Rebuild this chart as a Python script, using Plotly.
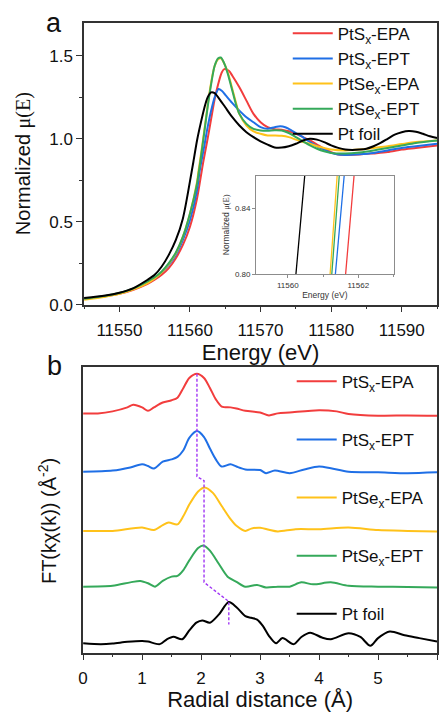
import plotly.graph_objects as go

# ---------------- Pt L3-edge XANES (normalized absorption) ----------------
e_epa_s = [11545, 11548, 11550, 11552, 11554, 11555, 11556, 11557, 11558, 11559, 11560, 11561,
           11561.64, 11561.88, 11562.5, 11563, 11563.5, 11564, 11564.5, 11564.85, 11565.5, 11566,
           11567, 11568, 11569, 11570, 11571, 11572, 11573, 11574, 11575, 11576, 11577, 11578,
           11579, 11580, 11581, 11582, 11584, 11586, 11588, 11590, 11592, 11595]
mu_epa_s = [0.035, 0.05, 0.065, 0.09, 0.125, 0.15, 0.18, 0.22, 0.28, 0.36, 0.47, 0.64,
            0.80, 0.86, 1.00, 1.12, 1.24, 1.33, 1.40, 1.42, 1.41, 1.38,
            1.31, 1.23, 1.15, 1.10, 1.07, 1.058, 1.055, 1.045, 1.03, 1.01, 0.99, 0.965,
            0.94, 0.92, 0.905, 0.903, 0.905, 0.912, 0.92, 0.935, 0.945, 0.96]

e_ept_s = [11545, 11548, 11550, 11552, 11554, 11555, 11556, 11557, 11558, 11559, 11560, 11561,
           11561.35, 11561.60, 11562, 11562.5, 11563, 11563.5, 11564.05, 11564.5, 11565, 11566,
           11567, 11568, 11569, 11570, 11571, 11572, 11572.8, 11573.5, 11574, 11575, 11576, 11577,
           11578, 11579, 11580, 11581, 11582, 11584, 11586, 11588, 11590, 11592, 11595]
mu_ept_s = [0.035, 0.052, 0.068, 0.095, 0.135, 0.16, 0.195, 0.24, 0.30, 0.39, 0.51, 0.69,
            0.80, 0.86, 0.95, 1.07, 1.17, 1.25, 1.30, 1.29, 1.265, 1.215,
            1.17, 1.13, 1.10, 1.07, 1.06, 1.07, 1.075, 1.07, 1.06, 1.035, 1.01, 0.98,
            0.955, 0.935, 0.915, 0.905, 0.903, 0.907, 0.915, 0.93, 0.945, 0.955, 0.97]

e_epa_se = [11545, 11548, 11550, 11552, 11554, 11555, 11556, 11557, 11558, 11559, 11560, 11561,
            11561.19, 11561.40, 11562, 11562.5, 11563, 11563.5, 11564, 11564.4, 11565, 11565.5,
            11566, 11566.5, 11567, 11568, 11569, 11570, 11571, 11572, 11573, 11574, 11575, 11576,
            11577, 11578, 11579, 11580, 11582, 11584, 11586, 11588, 11590, 11592, 11595]
mu_epa_se = [0.03, 0.048, 0.065, 0.092, 0.13, 0.158, 0.195, 0.245, 0.31, 0.41, 0.55, 0.74,
             0.80, 0.86, 1.04, 1.20, 1.34, 1.44, 1.48, 1.485, 1.44, 1.38,
             1.30, 1.22, 1.15, 1.08, 1.045, 1.03, 1.02, 1.02, 1.018, 1.01, 0.995, 0.98,
             0.97, 0.955, 0.945, 0.935, 0.93, 0.935, 0.945, 0.955, 0.968, 0.98, 0.99]

e_ept_se = [11545, 11548, 11550, 11552, 11554, 11555, 11556, 11557, 11558, 11559, 11560, 11561,
            11561.25, 11561.46, 11562, 11562.5, 11563, 11563.5, 11564, 11564.37, 11565, 11565.5,
            11566, 11566.5, 11567, 11568, 11569, 11570, 11571, 11572, 11573, 11574, 11575, 11576,
            11577, 11578, 11579, 11580, 11582, 11584, 11586, 11588, 11590, 11592, 11595]
mu_ept_se = [0.035, 0.053, 0.07, 0.098, 0.14, 0.165, 0.20, 0.25, 0.315, 0.41, 0.55, 0.73,
             0.80, 0.86, 1.03, 1.19, 1.33, 1.44, 1.485, 1.49, 1.44, 1.37,
             1.29, 1.21, 1.15, 1.09, 1.06, 1.05, 1.048, 1.052, 1.05, 1.035, 1.01, 0.985,
             0.96, 0.94, 0.925, 0.915, 0.912, 0.918, 0.93, 0.945, 0.96, 0.975, 0.99]

e_foil = [11545, 11548, 11550, 11552, 11554, 11555, 11556, 11557, 11558, 11559,
          11560.23, 11560.48, 11561, 11561.5, 11562, 11562.5, 11563, 11563.5, 11564, 11565,
          11566, 11567, 11568, 11569, 11570, 11571, 11572, 11573, 11574, 11575, 11576, 11577,
          11578, 11579, 11580, 11581, 11582, 11583, 11584, 11585, 11586, 11587, 11588, 11589,
          11590, 11591, 11592, 11593, 11594, 11595]
mu_foil = [0.04, 0.055, 0.072, 0.10, 0.15, 0.18, 0.23, 0.30, 0.39, 0.52,
           0.80, 0.86, 0.99, 1.09, 1.18, 1.25, 1.28, 1.275, 1.25, 1.19,
           1.13, 1.08, 1.04, 1.01, 0.985, 0.965, 0.948, 0.947, 0.955, 0.97, 0.99, 1.00,
           0.995, 0.98, 0.96, 0.945, 0.935, 0.933, 0.935, 0.94, 0.955, 0.975, 1.00, 1.025,
           1.04, 1.047, 1.043, 1.03, 1.015, 1.005]

# ---------------- Fourier-transformed EXAFS ----------------
r_epa_s = [0, 0.25, 0.5, 0.75, 0.85, 1.0, 1.1, 1.2, 1.35, 1.5, 1.6, 1.7, 1.8, 1.93, 2.05, 2.15,
           2.25, 2.35, 2.5, 2.6, 2.75, 3.0, 3.15, 3.3, 3.5, 4.0, 4.3, 4.5, 5.0, 5.5, 6.0]
ft_epa_s = [0.37, 0.37, 0.44, 0.58, 0.67, 0.58, 0.46, 0.58, 0.75, 0.83, 0.92, 1.26, 1.61, 1.76,
            1.61, 1.26, 0.86, 0.61, 0.58, 0.54, 0.46, 0.40, 0.30, 0.37, 0.40, 0.48, 0.44, 0.35,
            0.29, 0.30, 0.29]

r_ept_s = [0, 0.5, 0.8, 1.0, 1.1, 1.2, 1.35, 1.5, 1.6, 1.7, 1.8, 1.93, 2.05, 2.15, 2.25, 2.35,
           2.5, 2.6, 2.75, 3.0, 3.1, 3.25, 3.5, 3.75, 4.0, 4.2, 4.5, 5.0, 5.5, 6.0]
ft_ept_s = [0.33, 0.37, 0.48, 0.59, 0.53, 0.44, 0.68, 0.76, 0.85, 1.08, 1.51, 1.75, 1.54, 1.14,
            0.76, 0.51, 0.59, 0.51, 0.41, 0.39, 0.28, 0.37, 0.28, 0.41, 0.51, 0.45, 0.33, 0.31,
            0.28, 0.31]

r_epa_se = [0, 0.5, 1.0, 1.2, 1.35, 1.45, 1.6, 1.7, 1.8, 1.95, 2.06, 2.2, 2.35, 2.5, 2.6, 2.75,
            2.85, 3.0, 3.15, 3.3, 3.6, 4.0, 4.5, 5.0, 5.5, 6.0]
ft_epa_se = [0.26, 0.26, 0.38, 0.29, 0.46, 0.55, 0.49, 0.78, 1.18, 1.64, 1.78, 1.59, 1.13, 0.67,
             0.44, 0.26, 0.34, 0.37, 0.30, 0.24, 0.32, 0.32, 0.38, 0.29, 0.26, 0.24]

r_ept_se = [0, 0.5, 0.8, 0.97, 1.1, 1.22, 1.35, 1.5, 1.6, 1.7, 1.8, 1.95, 2.04, 2.15, 2.3, 2.45,
            2.6, 2.75, 2.95, 3.1, 3.3, 3.5, 3.7, 3.9, 4.2, 4.5, 5.0, 5.5, 6.0]
ft_ept_se = [0.31, 0.34, 0.46, 0.51, 0.43, 0.31, 0.51, 0.66, 0.69, 0.89, 1.23, 1.66, 1.75, 1.57,
             1.11, 0.66, 0.48, 0.31, 0.37, 0.28, 0.31, 0.31, 0.46, 0.39, 0.46, 0.34, 0.31, 0.30,
             0.28]

r_foil = [0, 0.3, 0.5, 0.75, 1.0, 1.1, 1.3, 1.42, 1.53, 1.68, 1.8, 1.92, 2.02, 2.15, 2.3, 2.47,
          2.6, 2.75, 2.85, 2.95, 3.05, 3.15, 3.27, 3.38, 3.57, 3.7, 3.85, 4.05, 4.2, 4.5, 4.7,
          4.87, 5.0, 5.2, 5.45, 5.7, 6.0]
ft_foil = [0.33, 0.30, 0.32, 0.38, 0.41, 0.39, 0.30, 0.47, 0.56, 0.47, 0.78, 1.05, 1.13, 1.05,
           1.33, 1.77, 1.59, 1.28, 1.22, 1.16, 0.93, 0.59, 0.33, 0.51, 0.30, 0.55, 0.70, 0.53,
           0.47, 0.68, 0.55, 0.24, 0.51, 0.74, 0.61, 0.51, 0.39]

ft_offsets = [8.0, 6.0, 4.0, 2.0, 0.0]

# guide through the first-shell peak positions
guide_r = [1.93, 1.93, 2.05, 2.05, 2.47, 2.47]
guide_y = [9.76, 6.16, 6.02, 2.46, 1.79, 0.99]

labels = ['PtS<sub>x</sub>-EPA', 'PtS<sub>x</sub>-EPT', 'PtSe<sub>x</sub>-EPA',
          'PtSe<sub>x</sub>-EPT', 'Pt foil']
colors = ['#f23d3d', '#1f6fe6', '#ffc21a', '#35a95a', '#000000']

xanes = [(e_epa_s, mu_epa_s), (e_ept_s, mu_ept_s), (e_epa_se, mu_epa_se),
         (e_ept_se, mu_ept_se), (e_foil, mu_foil)]
exafs = [(r_epa_s, ft_epa_s), (r_ept_s, ft_ept_s), (r_epa_se, ft_epa_se),
         (r_ept_se, ft_ept_se), (r_foil, ft_foil)]

FONT = 'Liberation Sans, Arial, sans-serif'
W, H = 440, 712
MU_TITLE = "Normalized <span style='font-family:Liberation Serif'>μ(E)</span>"

fig = go.Figure()

# main XANES panel
for (e, mu), name, c in zip(xanes, labels, colors):
    fig.add_trace(go.Scatter(x=e, y=mu, mode='lines', name=name,
                             line=dict(color=c, width=2, shape='spline', smoothing=0.8),
                             xaxis='x', yaxis='y', legend='legend'))

# inset: zoom on the edge position
for (e, mu), c in zip(xanes, colors):
    fig.add_trace(go.Scatter(x=e, y=mu, mode='lines', showlegend=False,
                             line=dict(color=c, width=1.3),
                             xaxis='x2', yaxis='y2', cliponaxis=True))

# FT-EXAFS panel, stacked
for i, ((r, ft), name, c, off) in enumerate(zip(exafs, labels, colors, ft_offsets)):
    fig.add_trace(go.Scatter(x=r, y=[v + off for v in ft], mode='lines', name=name,
                             legendgroup=f'g{i}',
                             line=dict(color=c, width=2, shape='spline', smoothing=0.8),
                             xaxis='x3', yaxis='y3', legend='legend2'))

fig.add_trace(go.Scatter(x=guide_r, y=guide_y, mode='lines', showlegend=False,
                         line=dict(color='#a035f5', width=1.4, dash='3px,2px'),
                         xaxis='x3', yaxis='y3'))

axis_common = dict(showline=True, linecolor='#333333', linewidth=1.5, mirror=True,
                   showgrid=False, zeroline=False, ticks='outside', tickcolor='#333333',
                   tickwidth=1.3, ticklen=6,
                   tickfont=dict(family=FONT, size=17, color='#111111'))

fig.update_layout(
    width=W, height=H,
    margin=dict(l=0, r=0, t=0, b=0),
    paper_bgcolor='white', plot_bgcolor='white',
    font=dict(family=FONT, color='#111111'),
    xaxis=dict(**axis_common, domain=[80 / W, 437 / W], range=[11545, 11595],
               tickvals=[11550, 11560, 11570, 11580, 11590], tickformat='d',
               ticklabelstandoff=3,
               minor=dict(dtick=5, tick0=11545, ticks='outside', ticklen=3,
                          tickcolor='#333333'),
               title=dict(text='Energy (eV)', font=dict(family=FONT, size=22),
                          standoff=0),
               anchor='y'),
    yaxis=dict(**axis_common, domain=[1 - 309 / H, 1 - 23 / H], range=[0, 1.7],
               tickvals=[0, 0.5, 1.0, 1.5], tickformat='.1f',
               minor=dict(dtick=0.25, tick0=0, ticks='outside', ticklen=3,
                          tickcolor='#333333'),
               title=dict(text=MU_TITLE, font=dict(family=FONT, size=20), standoff=13),
               anchor='x'),
    xaxis2=dict(showline=True, linecolor='#8c8c8c', linewidth=1, mirror=True,
                showgrid=False, zeroline=False, ticks='outside', ticklen=3,
                tickcolor='#8c8c8c', domain=[254 / W, 393 / W], range=[11559.1, 11563],
                tickvals=[11560, 11562], tickformat='d',
                minor=dict(dtick=1, tick0=11559, ticks='outside', ticklen=2,
                           tickcolor='#8c8c8c'),
                tickfont=dict(family=FONT, size=8, color='#333333'),
                title=dict(text='Energy (eV)', font=dict(family=FONT, size=8.5,
                                                         color='#333333'), standoff=1),
                anchor='y2'),
    yaxis2=dict(showline=True, linecolor='#8c8c8c', linewidth=1, mirror=True,
                showgrid=False, zeroline=False, ticks='outside', ticklen=3,
                tickcolor='#8c8c8c', domain=[1 - 278 / H, 1 - 178 / H], range=[0.80, 0.86],
                tickvals=[0.80, 0.84], tickformat='.2f',
                tickfont=dict(family=FONT, size=8, color='#333333'),
                title=dict(text=MU_TITLE, font=dict(family=FONT, size=8.5, color='#333333'),
                           standoff=3),
                anchor='x2'),
    xaxis3=dict(**axis_common, domain=[79 / W, 437 / W], range=[0, 6],
                tickvals=[0, 1, 2, 3, 4, 5, 6], ticklabelstandoff=3,
                minor=dict(dtick=0.5, tick0=0, ticks='outside', ticklen=3,
                           tickcolor='#333333'),
                title=dict(text='Radial distance (Å)', font=dict(family=FONT, size=22),
                           standoff=3),
                anchor='y3'),
    yaxis3=dict(showline=True, linecolor='#333333', linewidth=1.5, mirror=True,
                showgrid=False, zeroline=False, ticks='', showticklabels=False,
                domain=[1 - 662 / H, 1 - 372 / H], range=[0, 10],
                anchor='x3'),
    legend=dict(x=286 / W, xanchor='left', y=1 - 16 / H, yanchor='top',
                bgcolor='rgba(0,0,0,0)', font=dict(family=FONT, size=17),
                itemwidth=40, tracegroupgap=0),
    legend2=dict(x=290 / W, xanchor='left', y=1 - 369 / H, yanchor='top',
                 bgcolor='rgba(0,0,0,0)', font=dict(family=FONT, size=17),
                 itemwidth=40, tracegroupgap=33),
    annotations=[
        dict(text='a', x=50 / W, y=1 - 23 / H, xref='paper', yref='paper',
             xanchor='center', yanchor='middle',
             showarrow=False, font=dict(family=FONT, size=27, color='#111111')),
        dict(text='b', x=50 / W, y=1 - 371 / H, xref='paper', yref='paper',
             xanchor='center', yanchor='middle',
             showarrow=False, font=dict(family=FONT, size=27, color='#111111')),
        # y-axis title of the FT panel
        dict(text='FT(kχ(k)) (Å<sup>-2</sup>)', x=43 / W, y=1 - 529 / H,
             xref='paper', yref='paper', xanchor='center', yanchor='middle',
             textangle=-90, showarrow=False,
             font=dict(family=FONT, size=20, color='#111111')),
    ],
)

fig.write_html('out.html')
